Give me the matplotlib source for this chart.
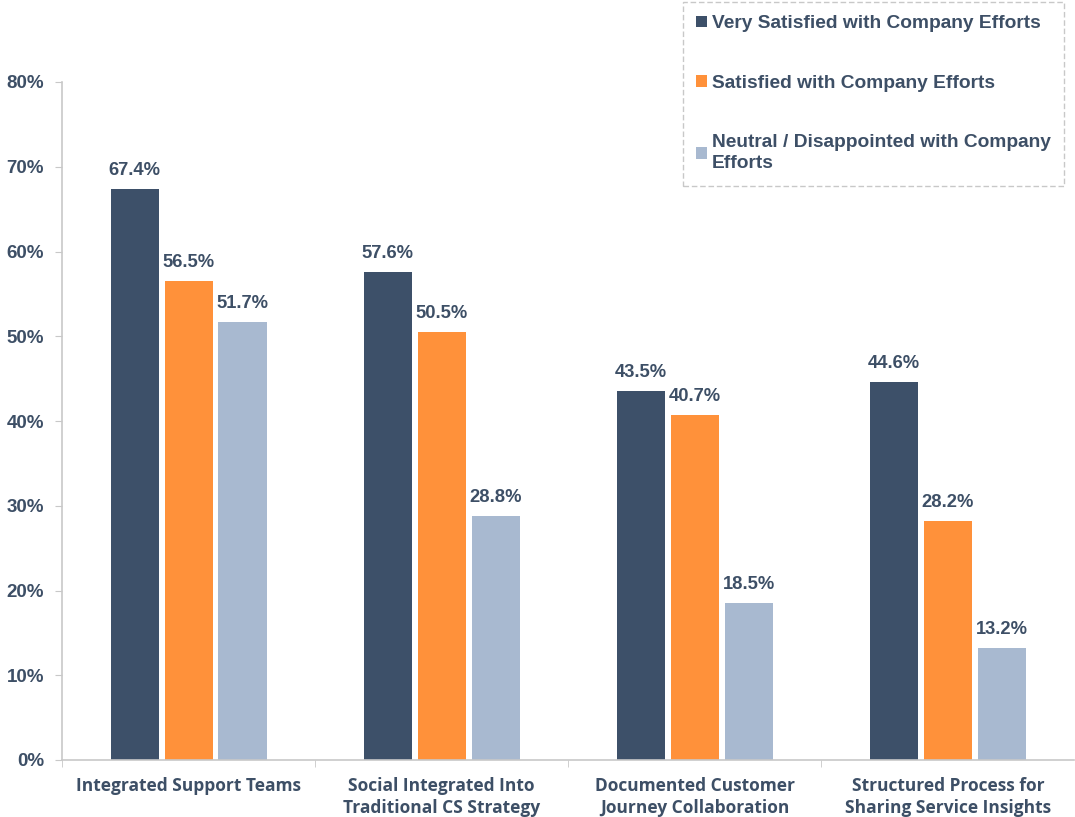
import matplotlib.pyplot as plt
import numpy as np
from matplotlib.patches import Patch

categories = ["Integrated Support Teams",
              "Social Integrated Into\nTraditional CS Strategy",
              "Documented Customer\nJourney Collaboration",
              "Structured Process for\nSharing Service Insights"]
series_names = ["Very Satisfied with Company Efforts",
                "Satisfied with Company Efforts",
                "Neutral / Disappointed with Company\nEfforts"]
very_satisfied = [67.4, 57.6, 43.5, 44.6]
satisfied = [56.5, 50.5, 40.7, 28.2]
neutral = [51.7, 28.8, 18.5, 13.2]
yticks = [0, 10, 20, 30, 40, 50, 60, 70, 80]

colors = ["#3D5069", "#FF913A", "#A8B9D0"]
text_color = "#3D4F66"

fig = plt.figure(figsize=(10.75, 8.17), dpi=100)
ax = fig.add_axes([62/1075, 57/817, 1 - 62/1075 - 0.0005, (760-82)/817])

x = np.arange(len(categories))
width = 0.19
step = 0.213
for i, (vals, c) in enumerate(zip([very_satisfied, satisfied, neutral], colors)):
    pos = x + (i - 1) * step
    ax.bar(pos, vals, width=width, color=c, zorder=2)
    for p, v in zip(pos, vals):
        ax.text(p, v + 1.2, f"{v:.1f}%", ha="center", va="bottom",
                fontsize=13.2, fontweight="bold", color=text_color,
                family="Liberation Sans")

ax.set_xlim(-0.5, 3.5)
ax.set_ylim(0, 80)
ax.set_yticks(yticks)
ax.set_yticklabels([f"{t}%" for t in yticks], fontsize=13.5, fontweight="bold",
                   color=text_color, family="Liberation Sans")
ax.set_xticks(x)
ax.set_xticklabels(categories, fontsize=12.5, fontweight="bold", color=text_color,
                   family="Open Sans", linespacing=1.3)
ax.tick_params(axis="x", length=0, pad=12)
ax.set_xticks([-0.5, 0.5, 1.5, 2.5], minor=True)
ax.tick_params(axis="x", which="minor", length=5, color="#C8C8C8")
ax.tick_params(axis="y", length=5, color="#C8C8C8", pad=8)
for s in ["top", "right"]:
    ax.spines[s].set_visible(False)
for s in ["left", "bottom"]:
    ax.spines[s].set_color("#C8C8C8")
    ax.spines[s].set_linewidth(1.2)

handles = [Patch(facecolor=c) for c in colors]
leg = fig.legend(handles, series_names, loc="upper left",
                 bbox_to_anchor=(683/1075, 1 - 2/817), frameon=True,
                 prop={"family": "Liberation Sans", "weight": "bold", "size": 13.8},
                 labelcolor=text_color, handlelength=0.55, handleheight=0.55,
                 handletextpad=0.25, labelspacing=2.2, borderpad=0.7,
                 borderaxespad=0, fancybox=False)
for t in leg.get_texts():
    t.set_linespacing(1.35)
frame = leg.get_frame()
frame.set_edgecolor("#BBBBBB")
frame.set_linestyle((0, (4, 2)))
frame.set_linewidth(1)

fig.savefig("out.png", dpi=100)
